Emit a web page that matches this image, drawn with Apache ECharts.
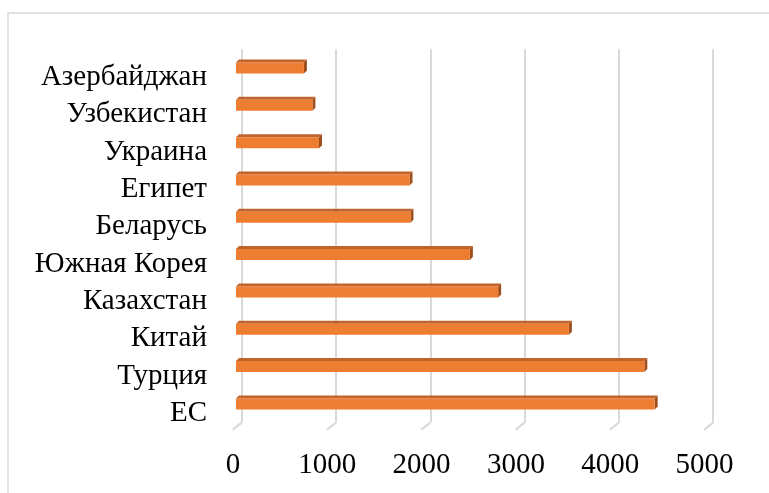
<!DOCTYPE html>
<html><head><meta charset="utf-8">
<script src="https://cdn.jsdelivr.net/npm/echarts@6/dist/echarts.min.js"></script>
<style>html,body{margin:0;padding:0;background:#fff}#c{width:769px;height:493px}</style>
</head><body><div id="c"></div>
<script>
const categories = ['ЕС','Турция','Китай','Казахстан','Южная Корея','Беларусь','Египет','Украина','Узбекистан','Азербайджан'];
const values = [4440,4330,3530,2780,2480,1850,1840,880,810,720];
const xTicks = [0,1000,2000,3000,4000,5000];

const chart = echarts.init(document.getElementById('c'));
const W = 471.5, H = 373.3, TOP = 49.3;
const font = 'Liberation Serif';
chart.setOption({
  animation:false,
  graphic:[{type:'rect',shape:{x:8,y:13,width:900,height:600},style:{fill:'none',stroke:'#d9d9d9',lineWidth:1.5},z:-10}],
  grid:[
    {left:241.7, top:TOP, width:W, height:H},      // back wall
    {left:236, top:TOP, width:W, height:H},        // bars
    {left:233, top:TOP+9.5, width:W, height:H}     // front labels
  ],
  xAxis:[
    {gridIndex:0,type:'value',min:0,max:5000,interval:1000,axisLabel:{show:false},axisLine:{show:false},axisTick:{show:false},splitLine:{show:true,lineStyle:{color:'#d9d9d9',width:2}}},
    {gridIndex:1,type:'value',min:0,max:5000,interval:1000,show:false},
    {gridIndex:2,type:'value',min:0,max:5000,interval:1000,axisLine:{show:false},axisTick:{show:false},splitLine:{show:false},
      axisLabel:{fontFamily:font,fontSize:29,color:'#000',margin:19,lineHeight:29,formatter:v=>String(v)}}
  ],
  yAxis:[
    {gridIndex:0,type:'value',min:0,max:1,show:false},
    {gridIndex:1,type:'category',data:categories,show:false},
    {gridIndex:2,type:'category',data:categories,axisLine:{show:false},axisTick:{show:false},
      axisLabel:{fontFamily:font,fontSize:29,color:'#000',margin:26,interval:0,hideOverlap:false}}
  ],
  series:[
    {type:'custom',xAxisIndex:0,yAxisIndex:0,data:xTicks.map(t=>[t,0]),silent:true,
      renderItem:function(params,api){
        const p=api.coord([api.value(0),0]);
        return {type:'line',shape:{x1:p[0],y1:p[1],x2:p[0]-9,y2:p[1]+7},style:{stroke:'#d9d9d9',lineWidth:2}};
      }},
    {type:'custom',xAxisIndex:1,yAxisIndex:1,z:5,data:values.map((v,i)=>[v,i]),
      renderItem:function(params,api){
        const v=api.value(0), i=api.value(1);
        const p0=api.coord([0,i]), p1=api.coord([v,i]);
        const h=11, d=3;
        const x0=p0[0], x1=p1[0], yT=p0[1]-h/2, yB=p0[1]+h/2;
        return {type:'group',children:[
          {type:'polygon',shape:{points:[[x0,yT],[x0+d,yT-d],[x1+d,yT-d],[x1,yT]]},style:{fill:'#c0642b'}},
          {type:'polygon',shape:{points:[[x1,yT],[x1+d,yT-d],[x1+d,yB-d],[x1,yB]]},style:{fill:'#9e4f1c'}},
          {type:'rect',shape:{x:x0,y:yT,width:x1-x0,height:h},style:{fill:'#ed7d31'}}
        ]};
      }}
  ]
});
</script></body></html>
